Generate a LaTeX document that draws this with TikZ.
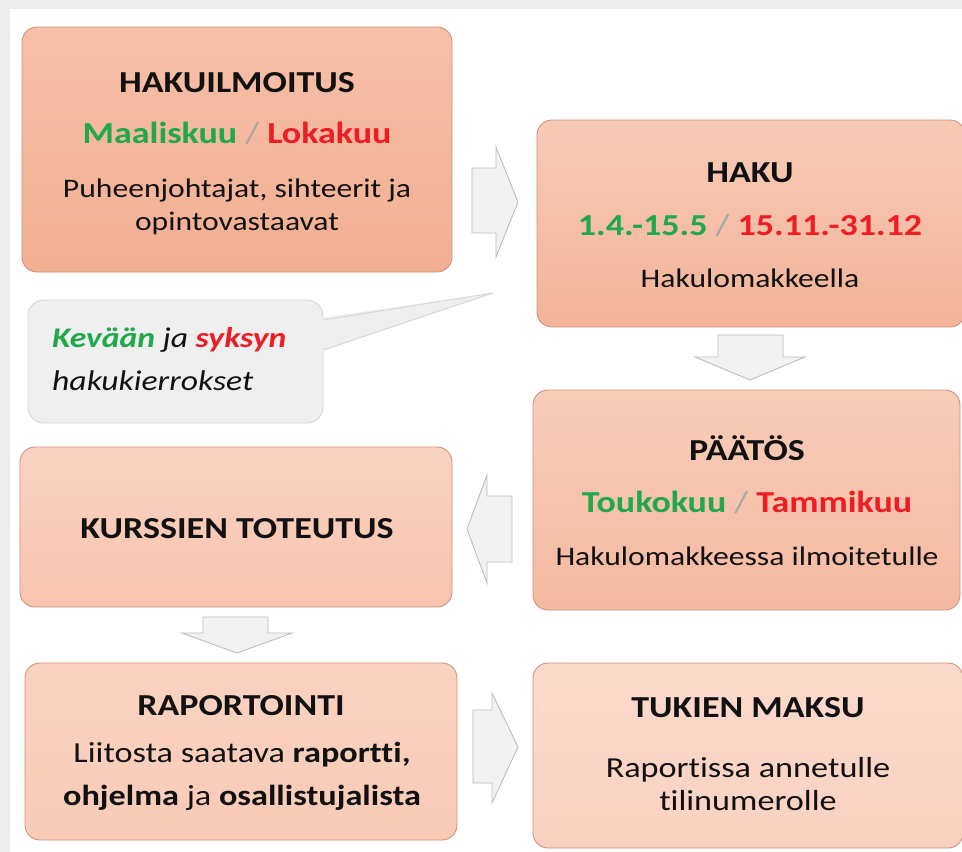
\documentclass[tikz,border=0pt]{standalone}
\usepackage{fontspec}
\setmainfont{Carlito}[FakeStretch=1.18, RawFeature={-liga}]
\definecolor{bggray}{HTML}{ECECEC}
\definecolor{boxline}{HTML}{C9957F}
\definecolor{arrowfill}{HTML}{F2F2F2}
\definecolor{arrowline}{HTML}{BDBDBD}
\definecolor{calloutfill}{HTML}{EFEFEF}
\definecolor{calloutline}{HTML}{D6D6D6}
\definecolor{grn}{HTML}{20A84A}
\definecolor{rd}{HTML}{EE1C24}
\definecolor{slashgray}{HTML}{A6A6A6}
\definecolor{txt}{HTML}{111111}
\definecolor{aTop}{HTML}{F6C0A8}\definecolor{aBot}{HTML}{F2AF92}
\definecolor{bTop}{HTML}{F8CBB7}\definecolor{bBot}{HTML}{F3B398}
\definecolor{cTop}{HTML}{F8CDB9}\definecolor{cBot}{HTML}{F4B9A0}
\definecolor{dTop}{HTML}{FAD3C2}\definecolor{dBot}{HTML}{F8C4AE}
\definecolor{eTop}{HTML}{FAD2C1}\definecolor{eBot}{HTML}{F9CBB7}
\definecolor{fTop}{HTML}{FBDACC}\definecolor{fBot}{HTML}{FAD1C0}
\newcommand\titlesz{\fontsize{30.5}{36}\selectfont}
\newcommand\bodysz{\fontsize{26.8}{32}\selectfont}
\newcommand\bigbodysz{\fontsize{29}{34}\selectfont}
\newcommand\calloutsz{\fontsize{28.5}{34}\selectfont}
\newcommand\sep{{\color{slashgray}\mdseries\ /\ }}
\begin{document}
\begin{tikzpicture}[x=1pt,y=-1pt,
  box/.style={rounded corners=15pt, draw=boxline, line width=0.9pt, inner sep=0pt, outer sep=0pt},
  blockarrow/.style={fill=arrowfill, draw=arrowline, line width=0.9pt, line join=miter},
  tl/.style={anchor=base, inner sep=0pt, font=\titlesz\bfseries, text=txt},
  bl/.style={anchor=base, inner sep=0pt, font=\bodysz, text=txt},
  bbl/.style={anchor=base, inner sep=0pt, font=\bigbodysz, text=txt},
  cl/.style={anchor=base west, inner sep=0pt, font=\calloutsz\itshape, text=txt}
]
\useasboundingbox (0,0) rectangle (962,852);
\fill[bggray] (0,0) rectangle (962,852);
\fill[white] (10,9) rectangle (962,852);

% boxes
\node[box, top color=aTop, bottom color=aBot, minimum width=430pt, minimum height=245pt] (b1) at (237,149.5) {};
\node[box, top color=bTop, bottom color=bBot, minimum width=428pt, minimum height=207pt] (b2) at (751,223.5) {};
\node[box, top color=cTop, bottom color=cBot, minimum width=427pt, minimum height=220pt] (b3) at (746.5,500) {};
\node[box, top color=dTop, bottom color=dBot, minimum width=432pt, minimum height=160pt] (b4) at (236,527) {};
\node[box, top color=eTop, bottom color=eBot, minimum width=432pt, minimum height=177pt] (b5) at (241,751.5) {};
\node[box, top color=fTop, bottom color=fBot, minimum width=430pt, minimum height=185pt] (b6) at (748,755.5) {};

% block arrows
\draw[blockarrow] (472,168) -- (496,168) -- (496,147) -- (518,202) -- (496,257) -- (496,233) -- (472,233) -- cycle;
\draw[blockarrow] (718,335) -- (783,335) -- (783,357) -- (805,357) -- (750,380) -- (695,357) -- (718,357) -- cycle;
\draw[blockarrow] (512,496) -- (487,496) -- (487,475) -- (467,529) -- (487,583) -- (487,562) -- (512,562) -- cycle;
\draw[blockarrow] (203,617) -- (268,617) -- (268,633) -- (292,633) -- (237,653) -- (182,633) -- (203,633) -- cycle;
\draw[blockarrow] (473,710) -- (492,710) -- (492,693) -- (518,747) -- (492,803) -- (492,783) -- (473,783) -- cycle;

% callout
\draw[fill=calloutfill, draw=calloutline, line width=0.9pt, rounded corners=16pt] (28,300) rectangle (323,423);
\fill[calloutfill] (320,318) -- (493,293) -- (320,352) -- cycle;
\draw[calloutline, line width=0.9pt] (323,320) -- (493,293) -- (323,350);
\node[cl] (c1) at (52,347) {{\bfseries\color{grn}Kevään} ja {\bfseries\color{rd}syksyn}};
\node[cl] (c2) at (52,390) {hakukierrokset};

% texts box 1
\node[tl] (t1a) at (237,92) {HAKUILMOITUS};
\node[tl] (t1b) at (237,143) {{\color{grn}Maaliskuu}\sep{\color{rd}Lokakuu}};
\node[bl] (t1c) at (237,197) {Puheenjohtajat, sihteerit ja};
\node[bl] (t1d) at (237,230) {opintovastaavat};

% box 2
\node[tl] (t2a) at (750,182) {HAKU};
\node[tl] (t2b) at (750,235) {{\color{grn}1.4.-15.5}\sep{\color{rd}15.11.-31.12}};
\node[bl] (t2c) at (750,287) {Hakulomakkeella};

% box 3
\node[tl] (t3a) at (747,460) {PÄÄTÖS};
\node[tl] (t3b) at (747,512) {{\color{grn}Toukokuu}\sep{\color{rd}Tammikuu}};
\node[bl] (t3c) at (747,565) {Hakulomakkeessa ilmoitetulle};

% box 4
\node[tl] (t4a) at (237,538) {KURSSIEN TOTEUTUS};

% box 5
\node[tl] (t5a) at (241,715) {RAPORTOINTI};
\node[bbl] (t5b) at (242,762) {Liitosta saatava \textbf{raportti,}};
\node[bbl] (t5c) at (242,805) {\textbf{ohjelma} ja \textbf{osallistujalista}};

% box 6
\node[tl] (t6a) at (748,717) {TUKIEN MAKSU};
\node[bbl] (t6b) at (748,777) {Raportissa annetulle};
\node[bbl] (t6c) at (748,810) {tilinumerolle};
\end{tikzpicture}
\end{document}
